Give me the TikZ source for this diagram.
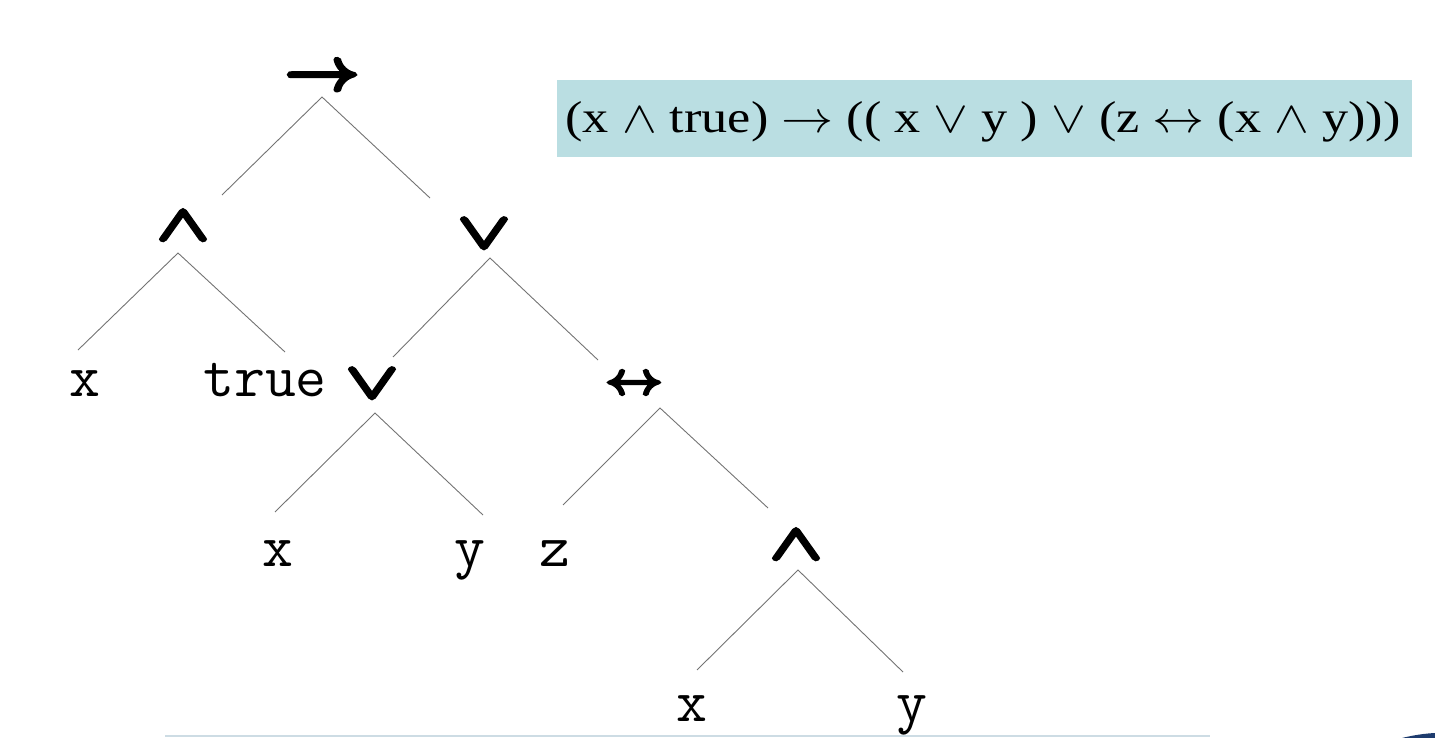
\documentclass[tikz,border=0pt]{standalone}
\usepackage{fontspec}
\setmainfont{Liberation Serif}
\usepackage{amsmath,graphicx}
\definecolor{boxblue}{RGB}{186,222,226}
\definecolor{swoosh}{RGB}{30,60,110}
\definecolor{slideline}{RGB}{205,220,228}
\newcommand{\bigop}[3]{\scalebox{#1}[#2]{\special{pdf:literal direct 2 Tr 0.55 w 0 j}\boldmath$#3$\special{pdf:literal direct 0 Tr}}}
\tikzset{
  leaf/.style={font=\ttfamily\fontsize{60}{66}\selectfont, inner sep=0pt, anchor=base},
  opsym/.style={inner sep=0pt},
  treeline/.style={draw=black!55, line width=0.9pt},
}
\begin{document}
\begin{tikzpicture}[x=1pt,y=-1pt]
\useasboundingbox (0,0) rectangle (1435,738);
% operator nodes
\node[opsym] (imp) at (322,78) {\bigop{6.5}{6}{\rightarrow}};
\node[opsym] (and1) at (183,226) {\bigop{6.9}{5}{\wedge}};
\node[opsym] (or1) at (484,234) {\bigop{6.9}{5}{\vee}};
\node[opsym] (or2) at (372,384) {\bigop{6.9}{5}{\vee}};
\node[opsym] (iff) at (634,385) {\bigop{5}{4.6}{\leftrightarrow}};
\node[opsym] (and2) at (796,545) {\bigop{6.9}{5}{\wedge}};
% leaves
\node[leaf] (x1) at (85,396) {x};
\node[leaf] (tru) at (265,396) {true};
\node[leaf] (x2) at (278,566) {x};
\node[leaf] (y2) at (470,566) {y};
\node[leaf] (z3) at (555,566) {z};
\node[leaf] (x4) at (692,721) {x};
\node[leaf] (y4) at (912,721) {y};
% connector points
\coordinate (impA) at (322,97);
\coordinate (impL) at (222,195);
\coordinate (impR) at (430,198);
\coordinate (and1A) at (178,253);
\coordinate (and1L) at (78,350);
\coordinate (and1R) at (285,352);
\coordinate (or1A) at (490,258);
\coordinate (or1L) at (393,357);
\coordinate (or1R) at (598,360);
\coordinate (or2A) at (375,413);
\coordinate (or2L) at (275,512);
\coordinate (or2R) at (483,515);
\coordinate (iffA) at (660,408);
\coordinate (iffL) at (563,505);
\coordinate (iffR) at (768,508);
\coordinate (and2A) at (798,570);
\coordinate (and2L) at (697,670);
\coordinate (and2R) at (903,672);
\draw[treeline] (impL) -- (impA) -- (impR);
\draw[treeline] (and1L) -- (and1A) -- (and1R);
\draw[treeline] (or1L) -- (or1A) -- (or1R);
\draw[treeline] (or2L) -- (or2A) -- (or2R);
\draw[treeline] (iffL) -- (iffA) -- (iffR);
\draw[treeline] (and2L) -- (and2A) -- (and2R);
% formula box
\node[fill=boxblue, minimum width=855pt, minimum height=77pt, inner sep=0pt] (formula) at (984.5,118.5) {};
\node[inner sep=0pt, anchor=base] (formtext) at (983,133) {\resizebox{835pt}{31pt}{(x $\wedge$ true) $\rightarrow$ (( x $\vee$ y ) $\vee$ (z $\leftrightarrow$ (x $\wedge$ y)))}};
% slide decorations
\draw[slideline, line width=2pt] (165,736) -- (1210,736);
\fill[swoosh] (1402,738) .. controls (1414,735) and (1425,733.5) .. (1435,733) -- (1435,738) -- cycle;
\end{tikzpicture}
\end{document}
